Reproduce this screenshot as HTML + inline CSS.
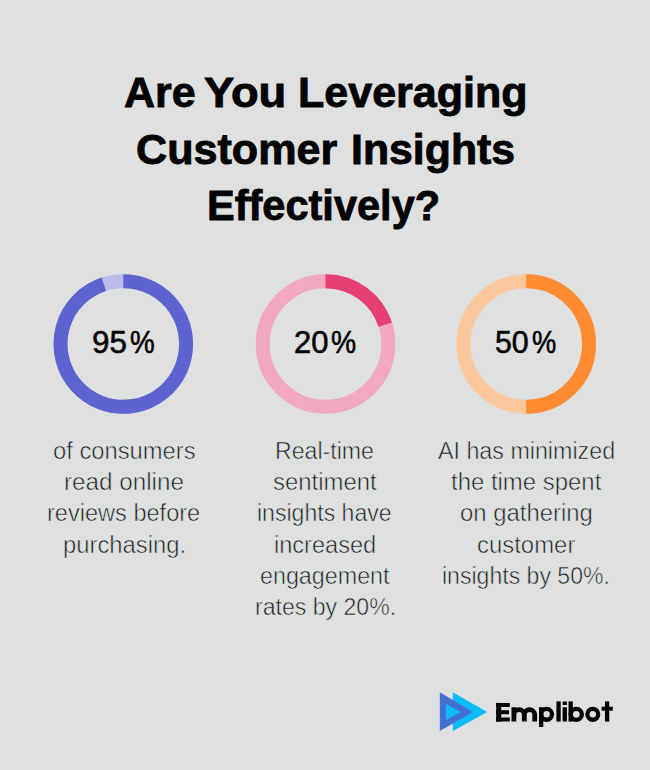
<!DOCTYPE html>
<html>
<head>
<meta charset="utf-8">
<style>
html,body{margin:0;padding:0;}
body{width:650px;height:770px;background:#dfe1e1;position:relative;overflow:hidden;font-family:"Liberation Sans",sans-serif;}
span{position:absolute;white-space:nowrap;line-height:1;transform-origin:0 0;display:block;}
.t{font-weight:bold;font-size:43.3px;color:#030303;-webkit-text-stroke:0.9px #030303;}
.n{font-size:31.7px;color:#030303;-webkit-text-stroke:0.6px #030303;}
.d{font-size:23.1px;color:#1c1c1c;-webkit-text-stroke:0.55px #dfe1e1;}
svg{position:absolute;left:0;top:0;}
</style>
</head>
<body>
<svg width="650" height="770" viewBox="0 0 650 770">
<g fill="none" stroke-width="14.0"><circle cx="123.3" cy="344.0" r="62.8" stroke="#bbbceb"/><path d="M123.3 281.2 A62.8 62.8 0 1 1 103.89 284.27" stroke="#5e64cf"/><circle cx="325.5" cy="344.0" r="62.8" stroke="#f2a8bf"/><path d="M325.5 281.2 A62.8 62.8 0 0 1 385.23 324.59" stroke="#e64072"/><circle cx="526.3" cy="344.0" r="62.8" stroke="#fdc79e"/><path d="M526.3 281.2 A62.8 62.8 0 0 1 526.30 406.80" stroke="#ff8b33"/></g>
<polygon points="452.8,692.3 487.2,712 452.8,731.1" fill="#0cbcf9"/>
<polygon points="439.8,692.3 473,712 439.8,731.1" fill="#4270d3"/>
<polygon points="446,704 460.8,712 446,720" fill="#0cbcf9"/>
<g fill="none" stroke="#030303" stroke-width="4.3">
<path d="M498.7 702.9V721.6" stroke-width="5"/>
<path d="M496.2 704.9H509.8M496.2 712.3H509M496.2 719.6H509.8" stroke-width="4"/>
<path d="M513.9 707.2V721.6M513.9 721.6V714.8a5.2 5.2 0 0 1 10.4 0V721.6M524.3 721.6V714.8a5.2 5.2 0 0 1 10.4 0V721.6" stroke-width="4.8"/>
<path d="M541.15 707.2V727"/><circle cx="546.6" cy="714.35" r="5.4"/>
<path d="M558.55 701.4V721.6"/>
<path d="M564.75 707.2V721.6M564.75 701.5V705.1"/>
<path d="M570.65 701.4V721.6"/><circle cx="576.3" cy="714.35" r="5.55"/>
<circle cx="592.8" cy="714.35" r="5.4"/>
<path d="M607.1 701.4V721.6"/><path d="M601.6 708.7H612.8" stroke-width="3.9"/>
</g>
</svg>
<span class="t" style="left:124.23px;top:70.75px;transform:scaleX(0.9922)">Are</span>
<span class="t" style="left:204.39px;top:70.75px;transform:scaleX(1.0477)">You</span>
<span class="t" style="left:298.11px;top:70.75px;transform:scaleX(0.9941)">Leveraging</span>
<span class="t" style="left:136.35px;top:127.55px;transform:scaleX(0.9958)">Customer</span>
<span class="t" style="left:350.72px;top:127.55px;transform:scaleX(0.9887)">Insights</span>
<span class="t" style="left:207.00px;top:184.25px;transform:scaleX(0.9591)">Effectively?</span>
<span class="n" style="left:91.73px;top:327.47px;transform:scaleX(0.9911)">95</span>
<span class="n" style="left:129.93px;top:327.47px;transform:scaleX(0.8761)">%</span>
<span class="n" style="left:293.80px;top:327.47px;transform:scaleX(0.9777)">20</span>
<span class="n" style="left:331.32px;top:327.47px;transform:scaleX(0.8914)">%</span>
<span class="n" style="left:495.25px;top:327.47px;transform:scaleX(0.9558)">50</span>
<span class="n" style="left:532.45px;top:327.47px;transform:scaleX(0.8609)">%</span>
<span class="d" style="left:52.66px;top:439.55px;transform:scaleX(1.0283)">of consumers</span>
<span class="d" style="left:63.68px;top:470.95px;transform:scaleX(1.0498)">read online</span>
<span class="d" style="left:46.93px;top:502.25px;transform:scaleX(1.0200)">reviews before</span>
<span class="d" style="left:62.61px;top:533.65px;transform:scaleX(1.0302)">purchasing.</span>
<span class="d" style="left:275.39px;top:439.55px;transform:scaleX(1.0010)">Real-time</span>
<span class="d" style="left:272.73px;top:470.95px;transform:scaleX(1.0364)">sentiment</span>
<span class="d" style="left:257.46px;top:502.25px;transform:scaleX(0.9981)">insights have</span>
<span class="d" style="left:273.83px;top:533.65px;transform:scaleX(1.0203)">increased</span>
<span class="d" style="left:260.07px;top:564.95px;transform:scaleX(1.0087)">engagement</span>
<span class="d" style="left:254.76px;top:596.25px;transform:scaleX(0.9992)">rates by 20%.</span>
<span class="d" style="left:437.70px;top:439.55px;transform:scaleX(1.0070)">AI has minimized</span>
<span class="d" style="left:450.80px;top:470.95px;transform:scaleX(1.0360)">the time spent</span>
<span class="d" style="left:460.35px;top:502.25px;transform:scaleX(1.0339)">on gathering</span>
<span class="d" style="left:476.65px;top:533.65px;transform:scaleX(1.0355)">customer</span>
<span class="d" style="left:442.06px;top:564.95px;transform:scaleX(0.9983)">insights by 50%.</span>
</body>
</html>
